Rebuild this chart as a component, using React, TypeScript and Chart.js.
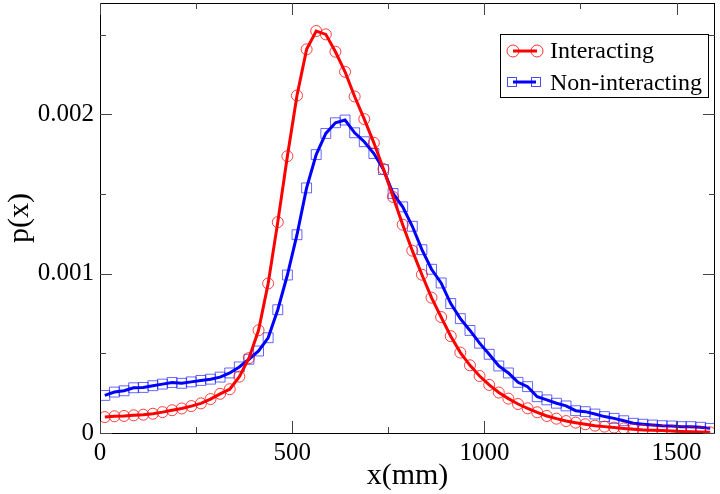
import { useEffect, useRef } from 'react';
import { Chart, registerables } from 'chart.js';

Chart.register(...registerables);

// bin centres (mm)
const xPositions = [
  12.5, 37.5, 62.5, 87.5, 112.5, 137.5, 162.5, 187.5, 212.5, 237.5, 262.5, 287.5, 312.5, 337.5, 362.5, 387.5,
  412.5, 437.5, 462.5, 487.5, 512.5, 537.5, 562.5, 587.5, 612.5, 637.5, 662.5, 687.5, 712.5, 737.5, 762.5, 787.5,
  812.5, 837.5, 862.5, 887.5, 912.5, 937.5, 962.5, 987.5, 1012.5, 1037.5, 1062.5, 1087.5, 1112.5, 1137.5, 1162.5, 1187.5,
  1212.5, 1237.5, 1262.5, 1287.5, 1312.5, 1337.5, 1362.5, 1387.5, 1412.5, 1437.5, 1462.5, 1487.5, 1512.5, 1537.5, 1562.5, 1587.5,
];

const interacting = [
  0.000100, 0.000105, 0.000107, 0.000111, 0.000115, 0.000121, 0.000131, 0.000143,
  0.000154, 0.000169, 0.000186, 0.000213, 0.000246, 0.000275, 0.000354, 0.000470,
  0.000645, 0.000939, 0.001324, 0.001738, 0.002119, 0.002409, 0.002524, 0.002503,
  0.002394, 0.002268, 0.002113, 0.001971, 0.001822, 0.001658, 0.001482, 0.001308,
  0.001145, 0.000994, 0.000850, 0.000728, 0.000608, 0.000505, 0.000425, 0.000358,
  0.000302, 0.000254, 0.000216, 0.000182, 0.000155, 0.000130, 0.000107, 0.000090,
  0.000075, 0.000065, 0.000055, 0.000046, 0.000040, 0.000034, 0.000029, 0.000023,
  0.000019, 0.000017, 0.000015, 0.000012, 0.000010, 0.000008, 0.000006, 0.000004,
];

const nonInteracting = [
  0.000236, 0.000257, 0.000265, 0.000284, 0.000286, 0.000297, 0.000307, 0.000317,
  0.000312, 0.000321, 0.000330, 0.000338, 0.000351, 0.000377, 0.000415, 0.000463,
  0.000515, 0.000598, 0.000774, 0.000992, 0.001245, 0.001539, 0.001748, 0.001881,
  0.001948, 0.001965, 0.001885, 0.001829, 0.001755, 0.001654, 0.001504, 0.001420,
  0.001298, 0.001151, 0.001028, 0.000942, 0.000813, 0.000718, 0.000644, 0.000564,
  0.000494, 0.000421, 0.000377, 0.000318, 0.000291, 0.000228, 0.000208, 0.000187,
  0.000170, 0.000140, 0.000134, 0.000119, 0.000103, 0.000092, 0.000077, 0.000061,
  0.000055, 0.000050, 0.000046, 0.000044, 0.000040, 0.000040, 0.000036, 0.000029,
];

const xMajorTicks = [0, 500, 1000, 1500];
const xMinorTicks = [250, 750, 1250];
const yMajorTicks = [0, 0.001, 0.002];
const yMinorTicks = [0.0005, 0.0015, 0.0025];

const seriesLabels = ['Interacting', 'Non-interacting'];

const SERIF = '"Liberation Serif", "Times New Roman", serif';

const framePlugin = {
  id: 'frameAndTicks',
  afterDatasetsDraw(chart: any) {
    const { ctx, chartArea, scales } = chart;
    const { left, right, top, bottom } = chartArea;
    const xs = scales.x;
    const ys = scales.y;
    ctx.save();
    ctx.strokeStyle = '#000';
    ctx.lineWidth = 1;
    ctx.strokeRect(left + 0.5, top + 0.5, right - left - 1, bottom - top);
    ctx.strokeStyle = '#444';
    const tick = (x1: number, y1: number, x2: number, y2: number) => {
      ctx.beginPath();
      ctx.moveTo(x1, y1);
      ctx.lineTo(x2, y2);
      ctx.stroke();
    };
    const drawX = (vals: number[], len: number) => {
      vals.forEach((v) => {
        const px = Math.round(xs.getPixelForValue(v)) + 0.5;
        tick(px, bottom, px, bottom - len);
        tick(px, top, px, top + len);
      });
    };
    const drawY = (vals: number[], len: number) => {
      vals.forEach((v) => {
        const py = Math.round(ys.getPixelForValue(v)) + 0.5;
        tick(left, py, left + len, py);
        tick(right, py, right - len, py);
      });
    };
    drawX(xMajorTicks, 12);
    drawX(xMinorTicks, 6);
    drawY(yMajorTicks, 12);
    drawY(yMinorTicks, 6);

    // legend box
    const bx = 500, by = 34, bw = 208, bh = 63;
    ctx.fillStyle = '#fff';
    ctx.fillRect(bx, by, bw, bh);
    ctx.strokeStyle = '#000';
    ctx.strokeRect(bx + 0.5, by + 0.5, bw, bh);

    // row 1
    const r1 = 51;
    ctx.strokeStyle = '#ff0000';
    ctx.lineWidth = 3;
    tick(513, r1, 537, r1);
    ctx.lineWidth = 1;
    ctx.strokeStyle = 'rgba(255,0,0,0.8)';
    [513, 537].forEach((cx) => {
      ctx.beginPath();
      ctx.arc(cx, r1, 6, 0, Math.PI * 2);
      ctx.stroke();
    });
    // row 2
    const r2 = 82;
    ctx.strokeStyle = '#0000ff';
    ctx.lineWidth = 3;
    tick(513, r2, 536, r2);
    ctx.lineWidth = 1;
    ctx.strokeStyle = 'rgba(0,0,255,0.7)';
    [512, 536].forEach((cx) => {
      ctx.strokeRect(cx - 4.5, r2 - 4.5, 9, 9);
    });

    ctx.fillStyle = '#000';
    ctx.font = `24px ${SERIF}`;
    ctx.textAlign = 'left';
    ctx.textBaseline = 'alphabetic';
    ctx.fillText(seriesLabels[0], 550, 58);
    ctx.fillText(seriesLabels[1], 550, 90);
    ctx.restore();
  },
};

export default function App() {
  const canvasRef = useRef<HTMLCanvasElement | null>(null);

  useEffect(() => {
    if (!canvasRef.current) return;
    const chart = new Chart(canvasRef.current, {
      type: 'line',
      data: {
        datasets: [
          {
            label: seriesLabels[0],
            data: xPositions.map((x, i) => ({ x, y: interacting[i] })),
            borderColor: '#ff0000',
            borderWidth: 3,
            pointStyle: 'circle',
            pointRadius: 5.5,
            pointBorderWidth: 1,
            pointBorderColor: 'rgba(255,0,0,0.75)',
            pointBackgroundColor: 'rgba(0,0,0,0)',
            tension: 0,
          },
          {
            label: seriesLabels[1],
            data: xPositions.map((x, i) => ({ x, y: nonInteracting[i] })),
            borderColor: '#0000ff',
            borderWidth: 3,
            pointStyle: 'rect',
            pointRadius: 7,
            pointBorderWidth: 1,
            pointBorderColor: 'rgba(0,0,255,0.6)',
            pointBackgroundColor: 'rgba(0,0,0,0)',
            tension: 0,
          },
        ],
      },
      options: {
        animation: false,
        responsive: true,
        maintainAspectRatio: false,
        layout: { autoPadding: false, padding: { top: 3, right: 5, left: 0, bottom: 0 } },
        plugins: {
          legend: { display: false },
          tooltip: { enabled: false },
        },
        scales: {
          x: {
            type: 'linear',
            min: 0,
            max: 1600,
            afterBuildTicks: (s: any) => { s.ticks = xMajorTicks.map((value) => ({ value })); },
            afterFit: (s: any) => {
              s.height = 61;
              s.paddingLeft = 0;
              s.paddingRight = 0;
            },
            grid: { display: false, drawTicks: false },
            border: { display: false },
            ticks: {
              autoSkip: false,
              maxRotation: 0,
              minRotation: 0,
              padding: 5,
              color: '#000',
              font: { family: SERIF, size: 25 },
              callback: (v: any) => String(v),
            },
            title: {
              display: true,
              text: 'x(mm)',
              color: '#000',
              font: { family: SERIF, size: 30 },
              padding: { top: 0, bottom: 0 },
            },
          },
          y: {
            type: 'linear',
            min: 0,
            max: 0.0027,
            afterBuildTicks: (s: any) => { s.ticks = yMajorTicks.map((value) => ({ value })); },
            afterFit: (s: any) => {
              s.width = 100;
              s.paddingTop = 0;
              s.paddingBottom = 0;
            },
            grid: { display: false, drawTicks: false },
            border: { display: false },
            ticks: {
              autoSkip: false,
              padding: 6,
              color: '#000',
              font: { family: SERIF, size: 25 },
              callback: (v: any) => (Math.abs(v) < 1e-9 ? '0' : Number(v).toFixed(3)),
            },
            title: {
              display: true,
              text: 'p(x)',
              color: '#000',
              font: { family: SERIF, size: 30 },
              padding: { top: 2, bottom: 0 },
            },
          },
        },
      },
      plugins: [framePlugin],
    });
    return () => chart.destroy();
  }, []);

  return (
    <div style={{ position: 'absolute', left: 0, top: 0, width: 720, height: 494, background: '#fff' }}>
      <canvas ref={canvasRef} />
    </div>
  );
}
